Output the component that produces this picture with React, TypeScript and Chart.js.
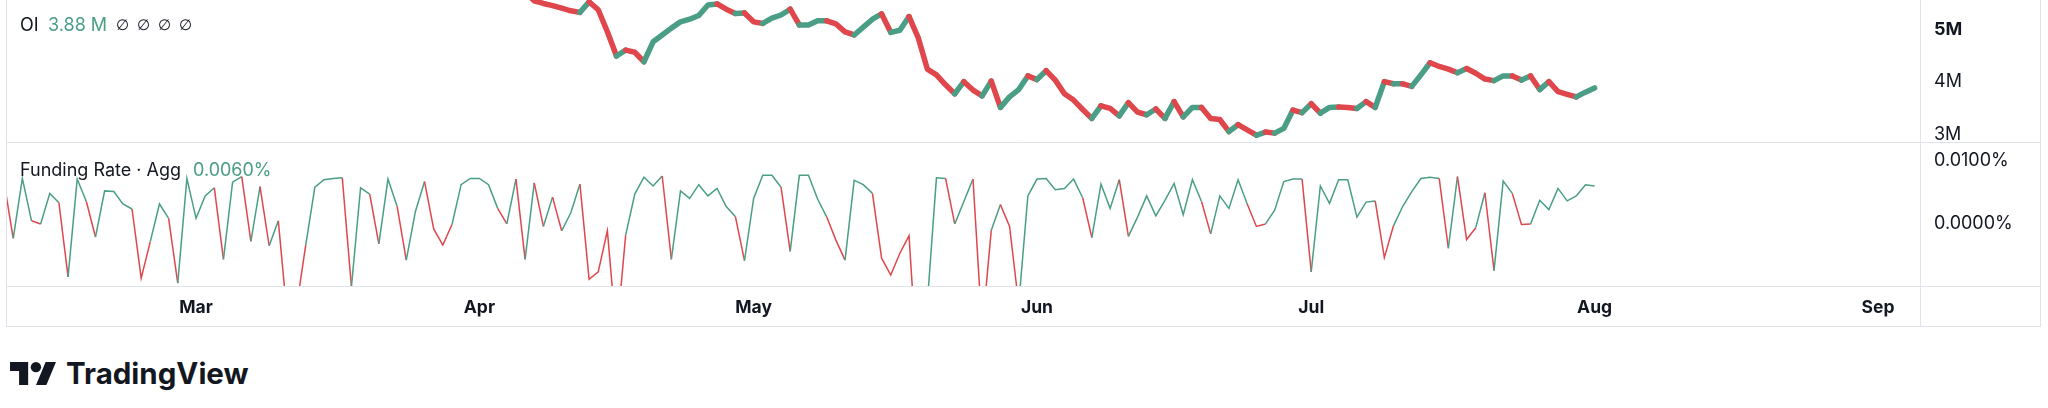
import { useEffect, useRef } from "react"
import { Chart, registerables } from "chart.js"

// Register Chart.js components
Chart.register(...registerables)
Chart.defaults.font.family = "Inter"

document.body.style.margin = "0"

// x values are day offsets from 1 March
const monthStarts = [0, 31, 61, 92, 122, 153, 184]
const monthLabels = ["Mar", "Apr", "May", "Jun", "Jul", "Aug", "Sep"]

// Open interest, one value per day, in millions
const oiFirstDay = 36
const oiValues = [
  5.71, 5.54, 5.49, 5.45, 5.40, 5.35, 5.32, 5.52, 5.37, 4.95,
  4.49, 4.60, 4.56, 4.38, 4.76, 4.89, 5.02, 5.14, 5.19, 5.26,
  5.46, 5.48, 5.38, 5.30, 5.31, 5.14, 5.11, 5.21, 5.27, 5.38,
  5.08, 5.08, 5.16, 5.16, 5.10, 4.95, 4.89, 5.04, 5.19, 5.29,
  4.94, 4.98, 5.24, 4.84, 4.24, 4.13, 3.94, 3.77, 4.00, 3.84,
  3.73, 4.01, 3.51, 3.71, 3.85, 4.11, 4.04, 4.21, 4.03, 3.77,
  3.65, 3.47, 3.30, 3.54, 3.49, 3.35, 3.60, 3.42, 3.37, 3.48,
  3.30, 3.62, 3.33, 3.51, 3.51, 3.30, 3.28, 3.05, 3.18, 3.08,
  2.98, 3.04, 3.02, 3.11, 3.46, 3.41, 3.58, 3.40, 3.51, 3.52,
  3.51, 3.49, 3.62, 3.51, 4.00, 3.96, 3.96, 3.91, 4.13, 4.36,
  4.29, 4.24, 4.17, 4.25, 4.16, 4.05, 4.02, 4.11, 4.11, 4.03,
  4.11, 3.85, 4.00, 3.81, 3.76, 3.71, 3.80, 3.88,
]

// Aggregated funding rate, one value per day, in percent
const fundingFirstDay = -21
const fundingValues = [
  0.0066, -0.0024, 0.0072, 0.0004, -0.0001, 0.0048, 0.0033, -0.0086, 0.0071, 0.0035,
  -0.0022, 0.0052, 0.0051, 0.0031, 0.0023, -0.0088, -0.0029, 0.0031, 0.0008, -0.0096,
  0.0072, 0.0008, 0.0044, 0.0057, -0.0058, 0.0066, 0.0075, -0.0029, 0.0059, -0.0036,
  0.0004, -0.0154, -0.0134, -0.0035, 0.0058, 0.0070, 0.0072, 0.0073, -0.0102, 0.0057,
  0.0047, -0.0033, 0.0071, 0.0027, -0.0059, 0.0019, 0.0067, -0.0009, -0.0035, -0.0002,
  0.0062, 0.0072, 0.0072, 0.0062, 0.0024, -0.0001, 0.0071, -0.0058, 0.0065, -0.0005,
  0.0042, -0.0012, 0.0017, 0.0063, -0.0090, -0.0078, -0.0012, -0.0182, -0.0019, 0.0047,
  0.0074, 0.0060, 0.0076, -0.0058, 0.0052, 0.0040, 0.0062, 0.0044, 0.0056, 0.0027,
  0.0011, -0.0060, 0.0040, 0.0077, 0.0077, 0.0058, -0.0045, 0.0077, 0.0077, 0.0039,
  0.0010, -0.0027, -0.0059, 0.0069, 0.0062, 0.0048, -0.0056, -0.0083, -0.0048, -0.0020,
  -0.0250, -0.0128, 0.0073, 0.0072, -0.0001, 0.0035, 0.0071, -0.0172, -0.0011, 0.0030,
  -0.0005, -0.0130, 0.0044, 0.0071, 0.0072, 0.0054, 0.0056, 0.0071, 0.0041, -0.0023,
  0.0063, 0.0024, 0.0070, -0.0021, 0.0010, 0.0044, 0.0012, 0.0037, 0.0064, 0.0014,
  0.0070, 0.0035, -0.0017, 0.0044, 0.0024, 0.0070, 0.0031, -0.0005, -0.0001, 0.0021,
  0.0067, 0.0071, 0.0071, -0.0078, 0.0060, 0.0032, 0.0070, 0.0070, 0.0010, 0.0034,
  0.0036, -0.0055, -0.0004, 0.0027, 0.0051, 0.0072, 0.0074, 0.0072, -0.0040, 0.0075,
  -0.0026, -0.0007, 0.0049, -0.0076, 0.0068, 0.0048, -0.0002, -0.0001, 0.0037, 0.0022,
  0.0056, 0.0036, 0.0044, 0.0062, 0.0060,
]

const oiTicks = [3, 4, 5]
const oiTickLabels = ["3M", "4M", "5M"]
const fundingTicks = [0, 0.01]
const fundingTickLabels = ["0.0000%", "0.0100%"]

const GREEN = "#4a9e85"
const RED = "#e0474c"
const TEXT = "#131722"
const BORDER = "#e0e3eb"

// Pane borders and separators
const framePlugin = {
  id: "frame",
  afterDraw: (chart: Chart) => {
    const { ctx, chartArea } = chart
    const oi = chart.scales.yOI
    const x = chart.scales.x
    const left = chartArea.left - 0.5
    const right = oi.right - 0.5
    ctx.save()
    ctx.strokeStyle = BORDER
    ctx.lineWidth = 1
    ctx.beginPath()
    for (const px of [left, chartArea.right + 0.5, right]) {
      ctx.moveTo(px, 0)
      ctx.lineTo(px, x.bottom)
    }
    for (const py of [oi.bottom + 0.5, chartArea.bottom + 0.5, x.bottom - 0.5]) {
      ctx.moveTo(left, py)
      ctx.lineTo(right, py)
    }
    ctx.stroke()
    ctx.restore()
  },
}

const tickFont = { family: "Inter", size: 18 }

export default function App() {
  const chartRef = useRef<HTMLCanvasElement>(null)

  useEffect(() => {
    if (!chartRef.current) return
    const chart = new Chart(chartRef.current, {
      type: "line",
      data: {
        datasets: [
          {
            label: "OI",
            data: oiValues.map((v, i) => ({ x: oiFirstDay + i, y: v })),
            yAxisID: "yOI",
            borderColor: GREEN,
            borderWidth: 5.5,
            borderJoinStyle: "round",
            borderCapStyle: "round",
            pointRadius: 0,
            clip: 0,
            segment: {
              borderColor: (c: any) => (c.p1.parsed.y >= c.p0.parsed.y ? GREEN : RED),
            },
          },
          {
            label: "Funding Rate",
            data: fundingValues.map((v, i) => ({ x: fundingFirstDay + i, y: v })),
            yAxisID: "yFR",
            borderColor: GREEN,
            borderWidth: 1.5,
            pointRadius: 0,
            clip: 0,
            segment: {
              borderColor: (c: any) => (c.p1.parsed.y >= 0 ? GREEN : RED),
            },
          },
        ],
      },
      options: {
        animation: false,
        responsive: false,
        events: [],
        layout: { padding: { left: 7, right: 7, top: 0, bottom: 3 } },
        plugins: { legend: { display: false }, tooltip: { enabled: false } },
        scales: {
          x: {
            type: "linear",
            min: -20.68,
            max: 188.6,
            grid: { display: false, drawTicks: false },
            border: { display: false },
            afterBuildTicks: (s: any) => {
              s.ticks = monthStarts.map((value) => ({ value }))
            },
            afterFit: (s: any) => {
              s.height = 41
              s.paddingLeft = 0
              s.paddingRight = 0
            },
            ticks: {
              autoSkip: false,
              maxRotation: 0,
              padding: 11,
              color: TEXT,
              font: { family: "Inter", size: 17.5, weight: "bold" },
              callback: (v: any) => monthLabels[monthStarts.indexOf(Number(v))] ?? "",
            },
          },
          yOI: {
            type: "linear",
            position: "right",
            stack: "panes",
            stackWeight: 142,
            min: 2.851,
            max: 5.556,
            grid: { display: false, drawTicks: false },
            border: { display: false },
            afterBuildTicks: (s: any) => {
              s.ticks = oiTicks.map((value) => ({ value }))
            },
            afterFit: (s: any) => {
              s.width = 121
              s.paddingTop = 0
              s.paddingBottom = 0
            },
            ticks: {
              autoSkip: false,
              padding: 14,
              color: TEXT,
              font: (c: any) => ({ ...tickFont, weight: c.tick && c.tick.value === 5 ? "bold" : "normal" }),
              callback: (v: any) => oiTickLabels[oiTicks.indexOf(Number(v))] ?? "",
            },
          },
          yFR: {
            type: "linear",
            position: "right",
            stack: "panes",
            stackWeight: 144,
            min: -0.01006,
            max: 0.01305,
            grid: { display: false, drawTicks: false },
            border: { display: false },
            afterBuildTicks: (s: any) => {
              s.ticks = fundingTicks.map((value) => ({ value }))
            },
            afterFit: (s: any) => {
              s.width = 121
              s.paddingTop = 0
              s.paddingBottom = 0
            },
            ticks: {
              autoSkip: false,
              padding: 14,
              color: TEXT,
              font: tickFont,
              callback: (v: any) => fundingTickLabels[fundingTicks.indexOf(Number(v))] ?? "",
            },
          },
        },
      },
      plugins: [framePlugin],
    } as any)

    return () => {
      chart.destroy()
    }
  }, [])

  const legend = { position: "absolute" as const, height: 20, lineHeight: "20px", fontSize: 18, whiteSpace: "nowrap" as const }

  return (
    <div style={{ position: "relative", width: 2048, height: 408, background: "#fff", fontFamily: "Inter, sans-serif", color: TEXT, overflow: "hidden" }}>
      <canvas ref={chartRef} width={2048} height={330} style={{ position: "absolute", left: 0, top: 0 }} />

      {/* Pane legends */}
      <span style={{ ...legend, left: 20, top: 15 }}>OI</span>
      <span style={{ ...legend, left: 48, top: 15, color: GREEN }}>3.88 M</span>
      {[116, 137, 158, 179].map((left) => (
        <span key={left} style={{ ...legend, left, top: 15, fontSize: 15, fontFamily: "'DejaVu Sans', sans-serif" }}>∅</span>
      ))}
      <span style={{ ...legend, left: 20, top: 160 }}>Funding Rate · Agg</span>
      <span style={{ ...legend, left: 193, top: 160, color: GREEN }}>0.0060%</span>

      {/* Logo */}
      <svg width={46} height={23.3} viewBox="0 4 35.5 18" style={{ position: "absolute", left: 10, top: 362 }}>
        <path d="M14 22H7V11H0V4h14v18zM28 22h-8l7.5-18h8L28 22z" fill={TEXT} />
        <circle cx={20} cy={8} r={4} fill={TEXT} />
      </svg>
      <span style={{ position: "absolute", left: 66, top: 353, height: 40, lineHeight: "40px", fontSize: 29.5, fontWeight: 700 }}>
        TradingView
      </span>
    </div>
  )
}
